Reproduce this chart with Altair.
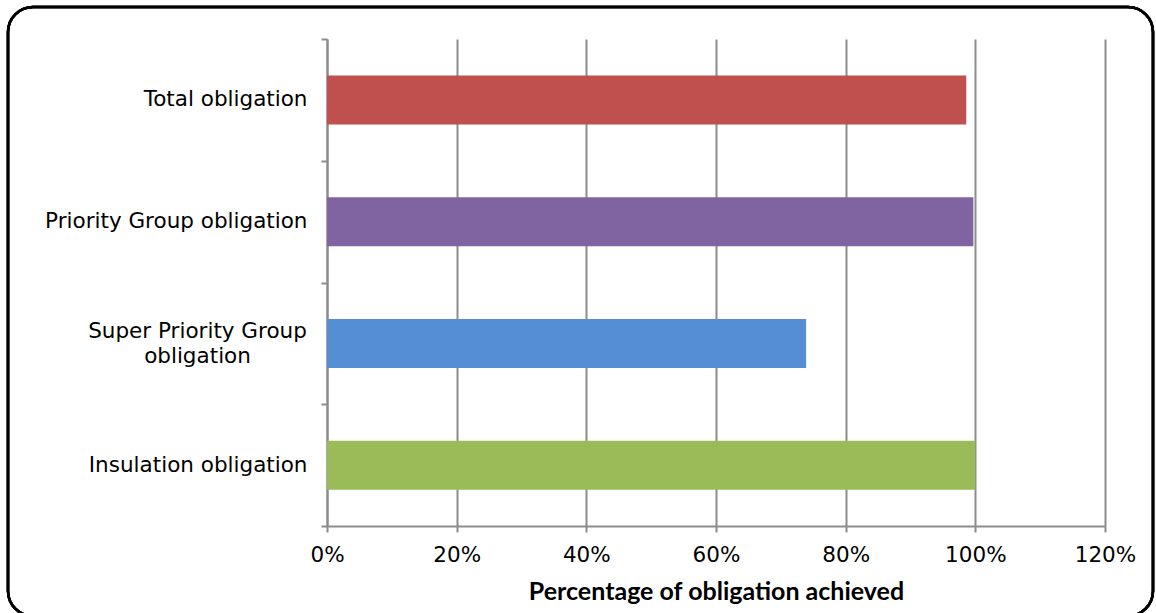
import altair as alt
import pandas as pd

categories = ["Total obligation", "Priority Group obligation",
              "Super Priority Group obligation", "Insulation obligation"]
values = [0.986, 0.997, 0.739, 1.0]
colors = ["#C0504D", "#8064A2", "#558ED5", "#9BBB59"]
x_ticks = [0, 0.2, 0.4, 0.6, 0.8, 1.0, 1.2]

df = pd.DataFrame({"category": categories, "value": values})

grey = "#8c8c8c"
wrapped = "Super Priority Group obligation"
label_expr = ("datum.value == '" + wrapped + "' ? "
              "['Super Priority Group', 'obligation'] : datum.value")
is_wrapped = "datum.value == '" + wrapped + "'"

bars = alt.Chart(df).mark_bar(size=49).encode(
    x=alt.X("value:Q",
            scale=alt.Scale(domain=[0, 1.2], nice=False),
            axis=alt.Axis(values=x_ticks, format=".0%", grid=True,
                          gridColor=grey, gridWidth=2,
                          domainColor=grey, domainWidth=2,
                          tickColor=grey, tickWidth=2, tickSize=6,
                          labelFont="DejaVu Sans", labelFontSize=21.5,
                          labelColor="black", labelPadding=12,
                          labelFlush=False, labelLimit=400,
                          title="Percentage of obligation achieved",
                          titleFont="Lato", titleFontWeight="bold",
                          titleFontSize=25, titleColor="black",
                          titlePadding=14)),
    y=alt.Y("category:N", sort=categories,
            scale=alt.Scale(paddingInner=0, paddingOuter=0),
            axis=alt.Axis(title=None, tickBand="extent",
                          domainColor=grey, domainWidth=2,
                          tickColor=grey, tickWidth=2, tickSize=6,
                          labelFont="DejaVu Sans", labelFontSize=21.5,
                          labelColor="black",
                          labelAlign={"condition": {"test": is_wrapped, "value": "center"},
                                      "value": "right"},
                          labelPadding={"condition": {"test": is_wrapped, "value": 124},
                                        "value": 14},
                          labelOffset={"condition": {"test": is_wrapped, "value": -12},
                                       "value": 0},
                          labelLimit=400,
                          labelLineHeight=25, labelExpr=label_expr)),
    color=alt.Color("category:N",
                    scale=alt.Scale(domain=categories, range=colors),
                    legend=None),
)

frame = alt.Chart(df).mark_rect(
    fill=None, filled=False, stroke="black", strokeWidth=2.5, cornerRadius=25
).encode(
    x=alt.value(-319), x2=alt.value(826),
    y=alt.value(-32), y2=alt.value(577),
)

chart = alt.layer(bars, frame).properties(
    width=778, height=487,
    padding={"left": 327, "top": 39, "right": 51, "bottom": 87},
    autosize=alt.AutoSizeParams(type="none"),
    background="white",
).configure_view(stroke=None)

chart.save("out.html", embed_options={"renderer": "svg", "actions": False})
